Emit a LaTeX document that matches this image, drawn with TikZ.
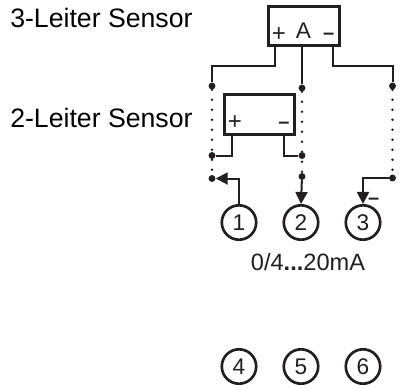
\documentclass[tikz,border=0pt]{standalone}
\usepackage{xcolor}
\usepackage{fontspec}
\setmainfont{Liberation Sans}
\usepackage{tikz}
\usetikzlibrary{arrows.meta}
\definecolor{inkgray}{HTML}{231F20}
\tikzset{
  sensorbox/.style={draw=inkgray,line width=2.2pt,inner sep=0pt,minimum width=53pt,minimum height=29.5pt},
  wire/.style={draw=inkgray,line width=1.5pt},
  dotline/.style={draw=inkgray,line width=1.9pt,line cap=round,dash pattern=on 0pt off 7.5pt},
  feed/.style={wire,-{Triangle[length=9pt,width=9pt]}},
  terminal/.style={circle,draw=inkgray,line width=2pt,minimum size=25.8pt,inner sep=0pt,text=inkgray,font=\fontsize{17}{17}\selectfont},
  junction/.style={circle,fill=inkgray,inner sep=0pt,minimum size=5.2pt},
  label/.style={inner sep=0pt,anchor=base west,text=black,font=\fontsize{20}{20}\selectfont},
  rangelabel/.style={inner sep=0pt,anchor=base,text=inkgray,font=\fontsize{17.7}{17.7}\selectfont},
  sign/.style={inner sep=0pt,anchor=base,text=inkgray,font=\fontsize{18}{18}\selectfont},
  minussign/.style={inner sep=0pt,anchor=base,text=inkgray,font=\fontsize{15}{15}\selectfont\bfseries}
}
\begin{document}
\begin{tikzpicture}[x=0.75pt,y=-0.75pt]
\useasboundingbox (0,0) rectangle (400,387);
  % sensors
  \node[sensorbox] (three) at (303.8,26) {};
  \node[sensorbox] (two) at (259.4,114.5) {};
  \coordinate (threeplus) at (275,26);
  \coordinate (threemid) at (302,26);
  \coordinate (threeminus) at (333,26);
  \coordinate (twoplus) at (232,114);
  \coordinate (twominus) at (284,114);
  \node[sign] (aplus) at (279,41) {+};
  \node[sign,font=\fontsize{17}{17}\selectfont] (aname) at (303.5,38.5) {A};
  \node[minussign] (aminus) at (328.7,39.4) {–};
  \node[sign] (bplus) at (235,129.7) {+};
  \node[minussign] (bminus) at (284,128.4) {–};
  \node[label] (threelabel) at (10,27) {3-Leiter Sensor};
  \node[label] (twolabel) at (10,127) {2-Leiter Sensor};
  % terminals
  \node[terminal] (t1) at (239,222.5) {1};
  \node[terminal] (t2) at (301,222.5) {2};
  \node[terminal] (t3) at (363,222.5) {3};
  \node[terminal] (t4) at (239,366.5) {4};
  \node[terminal] (t5) at (301,366.5) {5};
  \node[terminal] (t6) at (363,366.5) {6};
  \node[rangelabel] (range) at (308,270.7) {0/4\textbf{...}20mA};
  \node[minussign] (minus3) at (373.6,204) {–};
  % junctions
  \node[junction] (a1) at (212,86) {};
  \node[junction] (a2) at (302,88) {};
  \node[junction] (a3) at (392.5,86) {};
  \node[junction] (b1) at (212,155.5) {};
  \node[junction] (b2) at (302,155.5) {};
  \node[junction] (c1) at (212,178.5) {};
  \node[junction] (c2) at (302,176.5) {};
  \node[junction] (c3) at (392.5,178) {};
  % wires
  \draw[wire] (three.south -| threeplus) |- (a1 |- 0,66) -- (a1);
  \draw[wire] (three.south -| threemid) -- (a2);
  \draw[wire] (three.south -| threeminus) |- (a3 |- 0,66) -- (a3);
  \draw[wire] (two.south -| twoplus) |- (b1);
  \draw[wire] (two.south -| twominus) |- (b2);
  \draw[dotline] (a1) -- (c1);
  \draw[dotline] (a2) -- (c2);
  \draw[dotline] (a3) -- (c3);
  \draw[feed] (t1.north) |- (c1);
  \draw[feed] (c2) -- (t2.north);
  \draw[feed] (c3) -| (t3.north);
\end{tikzpicture}
\end{document}
